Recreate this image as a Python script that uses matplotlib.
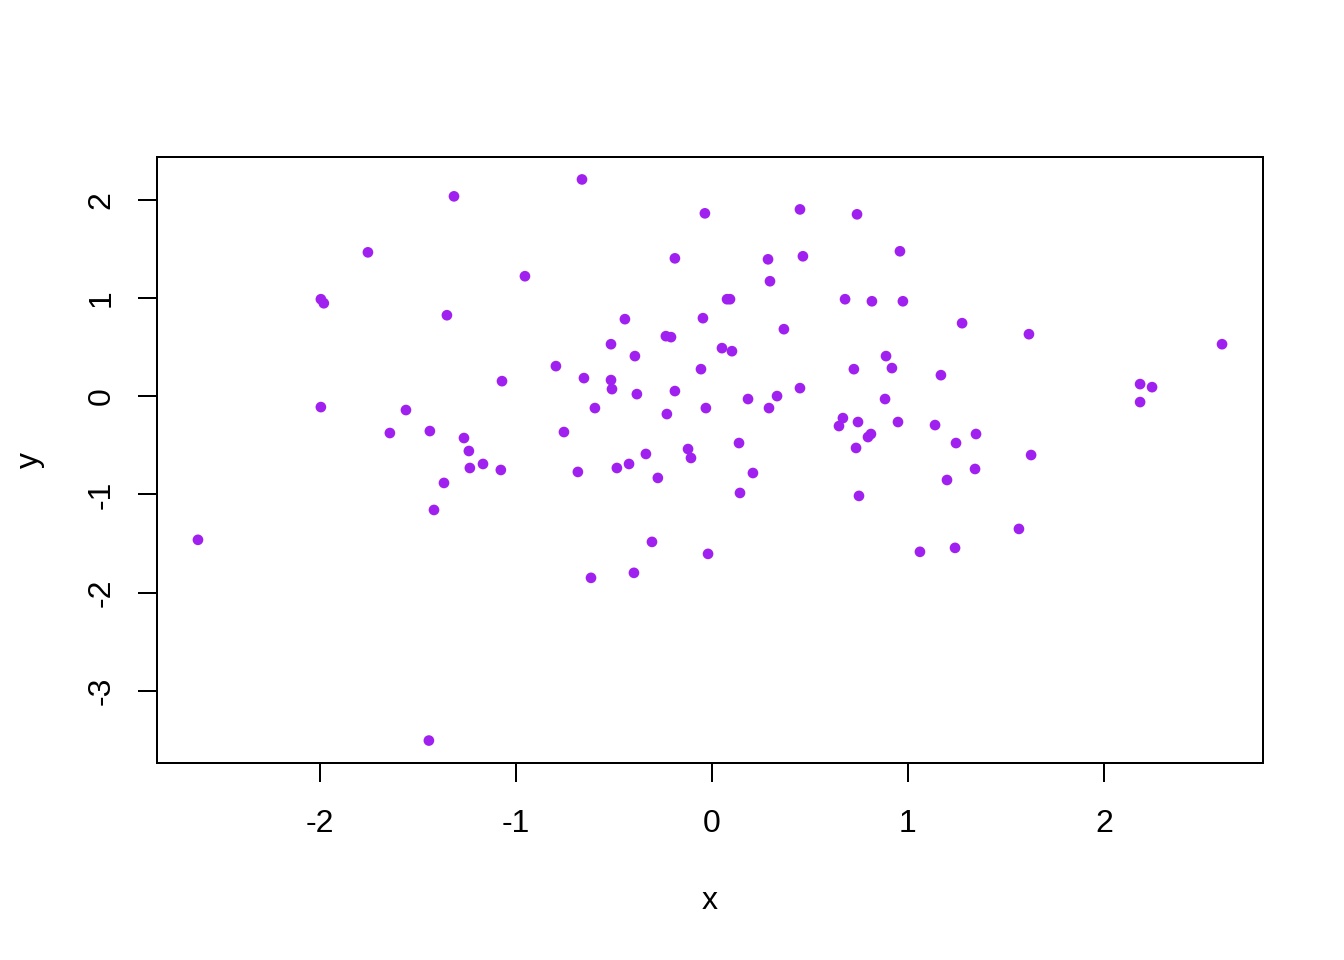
import numpy as np
import matplotlib
matplotlib.use("Agg")
import matplotlib.pyplot as plt

plt.rcParams['font.family'] = ['Liberation Sans', 'DejaVu Sans']
plt.rcParams['axes.unicode_minus'] = False  # guion simple como en R

# --- datos ---
x = [-2.622, -1.995, -1.980, -1.995, -1.755, -1.643, -1.561, -1.439, -1.444, -1.418,
     -1.367, -1.352, -1.316, -1.265, -1.240, -1.235, -1.168, -1.077, -1.071, -0.954,
     -0.796, -0.755, -0.684, -0.663, -0.653, -0.617, -0.597, -0.515, -0.515, -0.510,
     -0.485, -0.444, -0.423, -0.398, -0.393, -0.383, -0.337, -0.306, -0.276, -0.235,
     -0.209, -0.230, -0.189, -0.189, -0.122, -0.107, -0.056, -0.046, -0.036, -0.031,
     -0.020, 0.051, 0.077, 0.092, 0.102, 0.138, 0.143, 0.184, 0.209, 0.286,
     0.296, 0.291, 0.332, 0.367, 0.449, 0.449, 0.464, 0.648, 0.668, 0.679,
     0.724, 0.735, 0.740, 0.745, 0.750, 0.796, 0.811, 0.816, 0.883, 0.888,
     0.918, 0.949, 0.959, 0.974, 1.061, 1.138, 1.168, 1.199, 1.240, 1.245,
     1.276, 1.342, 1.347, 1.566, 1.617, 1.628, 2.184, 2.184, 2.245, 2.602]
y = [-1.463, 0.986, 0.945, -0.112, 1.463, -0.376, -0.142, -0.356, -3.506, -1.159,
     -0.884, 0.823, 2.033, -0.427, -0.559, -0.732, -0.691, -0.752, 0.152, 1.220,
     0.305, -0.366, -0.772, 2.205, 0.183, -1.850, -0.122, 0.528, 0.163, 0.071,
     -0.732, 0.783, -0.691, -1.799, 0.407, 0.020, -0.589, -1.484, -0.833, 0.610,
     0.600, -0.183, 1.402, 0.051, -0.539, -0.630, 0.274, 0.793, 1.860, -0.122,
     -1.606, 0.488, 0.986, 0.986, 0.457, -0.478, -0.986, -0.030, -0.783, 1.392,
     1.169, -0.122, 0.000, 0.681, 1.900, 0.081, 1.423, -0.305, -0.224, 0.986,
     0.274, -0.528, 1.850, -0.264, -1.016, -0.417, -0.386, 0.965, -0.030, 0.407,
     0.285, -0.264, 1.474, 0.965, -1.585, -0.295, 0.213, -0.854, -1.545, -0.478,
     0.742, -0.742, -0.386, -1.352, 0.630, -0.600, 0.122, -0.061, 0.091, 0.528]

xticks = [-2, -1, 0, 1, 2]
yticks = [-3, -2, -1, 0, 1, 2]

fig = plt.figure(figsize=(7, 5), dpi=192)
ax = fig.add_axes([157/1344, 1 - 763/960, (1263 - 157)/1344, (763 - 157)/960])

ax.scatter(x, y, s=16, color='#A020F0', edgecolors='none')

# rango al estilo R (4% extra)
xr = max(x) - min(x)
yr = max(y) - min(y)
ax.set_xlim(min(x) - 0.04*xr, max(x) + 0.04*xr)
ax.set_ylim(min(y) - 0.04*yr, max(y) + 0.04*yr)

ax.set_xticks(xticks)
ax.set_xticklabels([str(t) for t in xticks])
ax.set_yticks(yticks)
ax.set_yticklabels([str(t) for t in yticks], rotation=90, va='center')
ax.tick_params(axis='both', direction='out', length=7.2, width=0.75, labelsize=12, color='black')
ax.tick_params(axis='x', pad=10)
ax.tick_params(axis='y', pad=8)
for sp in ax.spines.values():
    sp.set_linewidth(0.75)

fig.text(710/1344, 1 - 901/960, 'x', ha='center', va='center', fontsize=12)
fig.text(30/1344, 1 - 460/960, 'y', ha='center', va='center', fontsize=12, rotation=90)

fig.savefig('out.png', dpi=192)
